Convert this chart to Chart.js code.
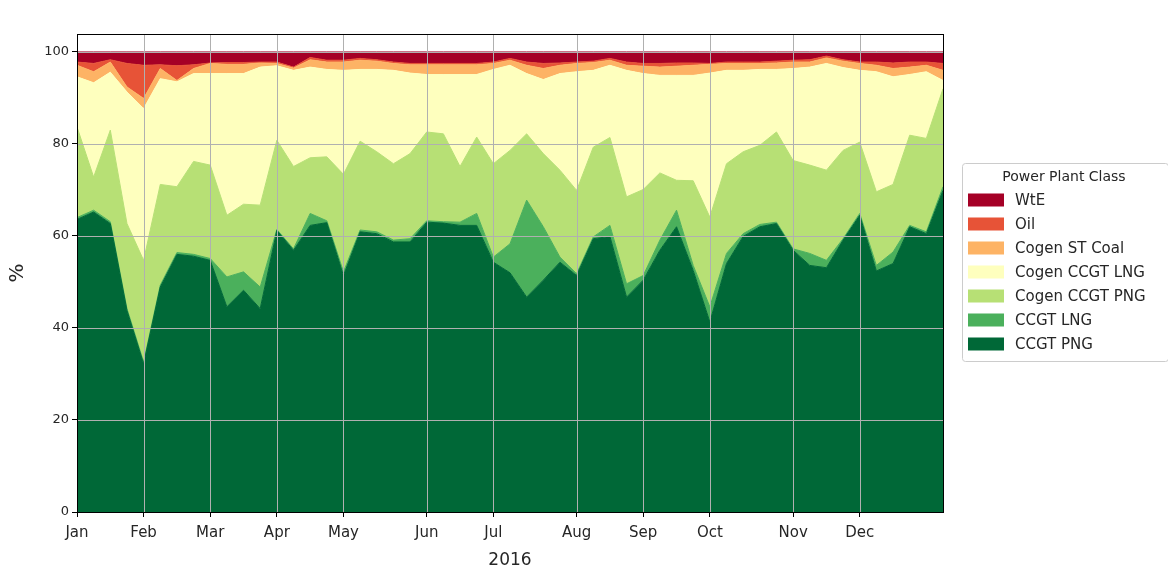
<!DOCTYPE html>
<html>
<head>
<meta charset="utf-8">
<script src="https://cdn.jsdelivr.net/npm/chart.js@4/dist/chart.umd.min.js"></script>
<style>
  html, body { margin: 0; padding: 0; background: #fff; }
  #wrap { width: 1168px; height: 575px; }
</style>
</head>
<body>
<div id="wrap"><canvas id="myChart" width="1168" height="575"></canvas></div>
<script>
// weekly shares (%) for 2016, week 0 .. week 52
const ccgtPng = [63.6, 65.2, 62.7, 43.8, 32.2, 48.9, 56.0, 55.6, 54.7, 44.6, 48.2, 44.2, 61.2, 56.9, 62.3, 62.9, 51.4, 60.9, 60.5, 58.7, 58.7, 63.0, 62.8, 62.3, 62.3, 54.3, 52.0, 46.7, 50.4, 54.3, 51.4, 59.4, 59.9, 46.7, 50.4, 56.9, 62.0, 52.5, 41.3, 54.0, 59.9, 62.0, 62.7, 56.9, 53.6, 53.1, 59.1, 64.5, 52.4, 54.0, 62.0, 60.5, 69.9];
const ccgtLng = [0.4, 0.4, 0.4, 0.4, 0.4, 0.4, 0.4, 0.4, 0.4, 6.5, 4.0, 4.7, 0.2, 0.3, 2.6, 0.4, 0.8, 0.4, 0.4, 0.4, 0.7, 0.3, 0.3, 0.7, 2.6, 1.1, 6.3, 21.1, 11.6, 1.1, 0.4, 0.4, 2.4, 2.9, 1.0, 2.2, 3.6, 1.1, 3.3, 2.2, 0.6, 0.5, 0.3, 0.3, 2.6, 1.6, 0.3, 0.4, 1.2, 2.5, 0.3, 0.4, 0.8];
const cogenPng = [19.7, 7.2, 19.9, 18.5, 22.1, 21.9, 14.3, 20.2, 20.3, 13.4, 14.7, 17.8, 19.4, 17.9, 12.1, 13.9, 21.2, 19.3, 17.4, 16.6, 18.5, 19.3, 19.1, 12.1, 16.6, 20.3, 20.3, 14.4, 15.9, 18.9, 18.1, 19.5, 19.1, 18.9, 18.7, 14.6, 6.5, 18.4, 19.5, 19.5, 17.8, 17.2, 19.6, 19.2, 19.2, 19.6, 19.2, 15.5, 16.0, 14.7, 19.6, 20.3, 21.3];
const cogenLng = [10.9, 20.5, 12.6, 28.6, 33.0, 23.0, 22.8, 19.1, 19.9, 30.8, 28.4, 30.0, 16.2, 20.9, 19.7, 19.0, 22.6, 15.6, 17.9, 20.3, 17.5, 12.5, 12.9, 20.0, 13.6, 20.5, 18.5, 13.1, 16.1, 21.0, 25.8, 16.7, 15.7, 27.5, 25.2, 21.2, 22.8, 22.9, 31.3, 20.3, 17.7, 16.5, 13.6, 20.0, 21.3, 23.2, 18.0, 15.6, 26.1, 23.4, 13.2, 14.5, 1.8];
const cogenCoal = [2.5, 2.4, 2.2, 1.1, 2.2, 2.2, 0.3, 1.1, 2.2, 2.0, 2.0, 0.9, 0.5, 0.5, 1.6, 1.6, 1.8, 2.0, 1.8, 1.5, 1.8, 2.1, 2.1, 2.1, 2.1, 1.3, 1.1, 1.8, 2.4, 1.8, 1.8, 1.7, 1.1, 1.1, 1.6, 1.8, 2.0, 2.2, 1.9, 1.5, 1.5, 1.3, 1.4, 1.4, 1.1, 1.2, 1.4, 1.5, 1.4, 1.8, 1.6, 1.4, 2.2];
const oil = [0.7, 1.8, 0.5, 5.1, 7.2, 0.8, 3.2, 0.8, 0.1, 0.4, 0.4, 0.2, 0.3, 0.2, 0.5, 0.4, 0.4, 0.4, 0.3, 0.3, 0.3, 0.3, 0.3, 0.3, 0.3, 0.3, 0.4, 0.7, 1.1, 0.5, 0.3, 0.3, 0.4, 0.7, 0.6, 0.8, 0.7, 0.5, 0.2, 0.3, 0.3, 0.3, 0.4, 0.4, 0.5, 0.4, 0.3, 0.3, 0.7, 1.2, 1.1, 0.7, 1.5];
const wte = [2.2, 2.5, 1.7, 2.5, 2.9, 2.8, 3.0, 2.8, 2.4, 2.3, 2.3, 2.2, 2.2, 3.3, 1.2, 1.8, 1.8, 1.4, 1.7, 2.2, 2.5, 2.5, 2.5, 2.5, 2.5, 2.2, 1.4, 2.2, 2.5, 2.4, 2.2, 2.0, 1.4, 2.2, 2.5, 2.5, 2.4, 2.4, 2.5, 2.2, 2.2, 2.2, 2.0, 1.8, 1.7, 0.9, 1.7, 2.2, 2.2, 2.4, 2.2, 2.2, 2.5];

// month ticks sit on the first week of each month
const monthLabels = ["Jan", "Feb", "Mar", "Apr", "May", "Jun", "Jul", "Aug", "Sep", "Oct", "Nov", "Dec"];
const monthWeeks = [0, 4, 8, 12, 16, 21, 25, 30, 34, 38, 43, 47];
const yTicks = [0, 20, 40, 60, 80, 100];

// bottom of the stack first
const seriesNames = ["CCGT PNG", "CCGT LNG", "Cogen CCGT PNG", "Cogen CCGT LNG", "Cogen ST Coal", "Oil", "WtE"];
const seriesValues = [ccgtPng, ccgtLng, cogenPng, cogenLng, cogenCoal, oil, wte];
const seriesColors = ["#006837", "#4bb05c", "#b7e075", "#feffbe", "#fdb365", "#e75337", "#a50026"];

const FONT = "'DejaVu Sans', sans-serif";

const datasets = seriesNames.map((name, k) => ({
    label: name,
    data: seriesValues[k].map((v, i) => ({ x: i, y: v })),
    backgroundColor: seriesColors[k],
    borderColor: seriesColors[k],
    borderWidth: 1,
    pointRadius: 0,
    tension: 0,
    fill: k === 0 ? "origin" : "-1",
}));

// grid + frame on top of the areas, like matplotlib's grid
const overGrid = {
    id: "overGrid",
    afterDatasetsDraw(chart) {
        const { ctx, chartArea: a, scales } = chart;
        ctx.save();
        ctx.strokeStyle = "#b0b0b0";
        ctx.lineWidth = 1;
        ctx.beginPath();
        monthWeeks.forEach((w) => {
            const x = Math.round(scales.x.getPixelForValue(w)) + 0.5;
            ctx.moveTo(x, a.top);
            ctx.lineTo(x, a.bottom);
        });
        yTicks.forEach((v) => {
            const y = Math.round(scales.y.getPixelForValue(v)) + 0.5;
            ctx.moveTo(a.left, y);
            ctx.lineTo(a.right, y);
        });
        ctx.stroke();
        ctx.strokeStyle = "#000";
        ctx.strokeRect(a.left + 0.5, a.top + 0.5, a.right - a.left, a.bottom - a.top);
        ctx.restore();
    },
};

// legend box on the right, reversed order, with a title
const sideLegend = {
    id: "sideLegend",
    afterDraw(chart) {
        const ctx = chart.ctx;
        const left = 962, top = 163, w = 206, h = 198;
        ctx.save();
        ctx.fillStyle = "#fff";
        ctx.strokeStyle = "#cccccc";
        ctx.lineWidth = 1;
        ctx.beginPath();
        ctx.roundRect(left + 0.5, top + 0.5, w, h, 3);
        ctx.fill();
        ctx.stroke();
        ctx.fillStyle = "#262626";
        ctx.font = "14px " + FONT;
        ctx.textAlign = "center";
        ctx.textBaseline = "middle";
        ctx.fillText("Power Plant Class", 1064, 177);
        ctx.textAlign = "left";
        ctx.font = "15px " + FONT;
        for (let r = 0; r < seriesNames.length; r++) {
            const k = seriesNames.length - 1 - r;
            const cy = 200 + r * 24;
            ctx.fillStyle = seriesColors[k];
            ctx.fillRect(968, cy - 6.5, 36, 13);
            ctx.fillStyle = "#262626";
            ctx.fillText(seriesNames[k], 1015, cy + 1);
        }
        ctx.restore();
    },
};

const ctx = document.getElementById("myChart");
const myChart = new Chart(ctx, {
    type: "line",
    data: { datasets: datasets },
    options: {
        responsive: false,
        animation: false,
        layout: { padding: { top: 34, right: 225, left: 0, bottom: 0 } },
        plugins: {
            legend: { display: false },
            tooltip: { enabled: false },
        },
        scales: {
            x: {
                type: "linear",
                min: 0,
                max: 52,
                afterBuildTicks: (scale) => {
                    scale.ticks = monthWeeks.map((w) => ({ value: w }));
                },
                afterFit: (scale) => { scale.height = 63; },
                ticks: {
                    autoSkip: false,
                    maxRotation: 0,
                    color: "#262626",
                    font: { family: FONT, size: 15 },
                    padding: 7,
                    callback: (value) => monthLabels[monthWeeks.indexOf(value)],
                },
                grid: { drawOnChartArea: false, tickLength: 5, color: "#000" },
                border: { display: false },
                title: {
                    display: true,
                    text: "2016",
                    color: "#262626",
                    font: { family: FONT, size: 17 },
                    padding: { top: 0, bottom: 4 },
                },
            },
            y: {
                stacked: true,
                min: 0,
                max: 103.9,
                afterBuildTicks: (scale) => {
                    scale.ticks = yTicks.map((v) => ({ value: v }));
                },
                afterFit: (scale) => { scale.width = 77; },
                ticks: {
                    color: "#262626",
                    font: { family: FONT, size: 13 },
                    padding: 3,
                },
                grid: { drawOnChartArea: false, tickLength: 5, color: "#000" },
                border: { display: false },
                title: {
                    display: true,
                    text: "%",
                    color: "#262626",
                    font: { family: FONT, size: 20 },
                    padding: { top: 6, bottom: 0 },
                },
            },
        },
    },
    plugins: [overGrid, sideLegend],
});
</script>
</body>
</html>
